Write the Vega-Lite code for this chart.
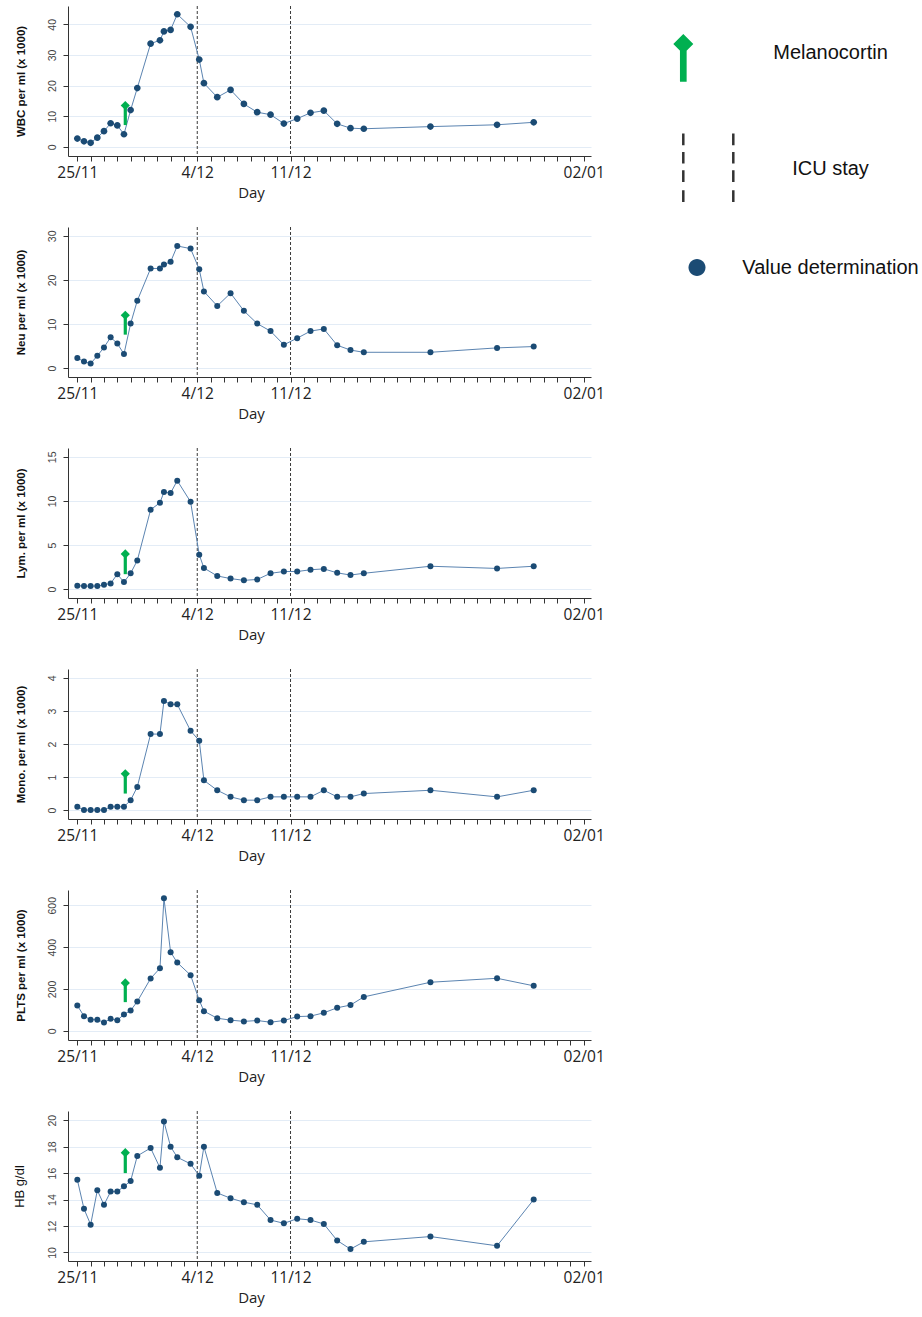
{
  "$schema": "https://vega.github.io/schema/vega-lite/v6.json",
  "background": "white",
  "padding": {"left": 13, "top": 5, "right": 5, "bottom": 5},
  "datasets": {
    "labs": [
      {"t": "2020-11-25T00:00:00", "wbc": 2.7, "neu": 2.3, "lym": 0.4, "mono": 0.1, "plts": 121, "hb": 15.5},
      {"t": "2020-11-25T12:00:00", "wbc": 1.8, "neu": 1.5, "lym": 0.35, "mono": 0, "plts": 70, "hb": 13.3},
      {"t": "2020-11-26T00:00:00", "wbc": 1.3, "neu": 1.05, "lym": 0.35, "mono": 0, "plts": 53, "hb": 12.1},
      {"t": "2020-11-26T12:00:00", "wbc": 3.0, "neu": 2.8, "lym": 0.35, "mono": 0, "plts": 53, "hb": 14.7},
      {"t": "2020-11-27T00:00:00", "wbc": 5.1, "neu": 4.7, "lym": 0.5, "mono": 0, "plts": 40, "hb": 13.6},
      {"t": "2020-11-27T12:00:00", "wbc": 7.7, "neu": 7.0, "lym": 0.65, "mono": 0.1, "plts": 57, "hb": 14.6},
      {"t": "2020-11-28T00:00:00", "wbc": 7.0, "neu": 5.6, "lym": 1.7, "mono": 0.1, "plts": 51, "hb": 14.6},
      {"t": "2020-11-28T12:00:00", "wbc": 4.1, "neu": 3.2, "lym": 0.8, "mono": 0.1, "plts": 78, "hb": 15.0},
      {"t": "2020-11-29T00:00:00", "wbc": 12.0, "neu": 10.1, "lym": 1.8, "mono": 0.3, "plts": 97, "hb": 15.4},
      {"t": "2020-11-29T12:00:00", "wbc": 19.2, "neu": 15.3, "lym": 3.25, "mono": 0.7, "plts": 140, "hb": 17.3},
      {"t": "2020-11-30T12:00:00", "wbc": 33.7, "neu": 22.6, "lym": 9.0, "mono": 2.3, "plts": 250, "hb": 17.9},
      {"t": "2020-12-01T04:48:00", "wbc": 34.8, "neu": 22.6, "lym": 9.8, "mono": 2.3, "plts": 299, "hb": 16.4},
      {"t": "2020-12-01T12:00:00", "wbc": 37.7, "neu": 23.5, "lym": 11.0, "mono": 3.3, "plts": 633, "hb": 19.9},
      {"t": "2020-12-02T00:00:00", "wbc": 38.2, "neu": 24.1, "lym": 10.9, "mono": 3.2, "plts": 376, "hb": 18.0},
      {"t": "2020-12-02T12:00:00", "wbc": 43.3, "neu": 27.7, "lym": 12.3, "mono": 3.2, "plts": 326, "hb": 17.2},
      {"t": "2020-12-03T12:00:00", "wbc": 39.2, "neu": 27.1, "lym": 9.9, "mono": 2.4, "plts": 266, "hb": 16.7},
      {"t": "2020-12-04T03:36:00", "wbc": 28.5, "neu": 22.4, "lym": 3.9, "mono": 2.1, "plts": 146, "hb": 15.8},
      {"t": "2020-12-04T12:00:00", "wbc": 20.8, "neu": 17.4, "lym": 2.4, "mono": 0.9, "plts": 94, "hb": 18.0},
      {"t": "2020-12-05T12:00:00", "wbc": 16.2, "neu": 14.1, "lym": 1.5, "mono": 0.6, "plts": 60, "hb": 14.5},
      {"t": "2020-12-06T12:00:00", "wbc": 18.6, "neu": 17.0, "lym": 1.2, "mono": 0.4, "plts": 51, "hb": 14.1},
      {"t": "2020-12-07T12:00:00", "wbc": 14.0, "neu": 13.0, "lym": 1.0, "mono": 0.3, "plts": 45, "hb": 13.8},
      {"t": "2020-12-08T12:00:00", "wbc": 11.3, "neu": 10.1, "lym": 1.1, "mono": 0.3, "plts": 49, "hb": 13.6},
      {"t": "2020-12-09T12:00:00", "wbc": 10.5, "neu": 8.4, "lym": 1.8, "mono": 0.4, "plts": 41, "hb": 12.45},
      {"t": "2020-12-10T12:00:00", "wbc": 7.6, "neu": 5.3, "lym": 2.0, "mono": 0.4, "plts": 49, "hb": 12.2},
      {"t": "2020-12-11T12:00:00", "wbc": 9.2, "neu": 6.8, "lym": 2.0, "mono": 0.4, "plts": 68, "hb": 12.55},
      {"t": "2020-12-12T12:00:00", "wbc": 11.1, "neu": 8.4, "lym": 2.2, "mono": 0.4, "plts": 70, "hb": 12.45},
      {"t": "2020-12-13T12:00:00", "wbc": 11.8, "neu": 8.9, "lym": 2.3, "mono": 0.6, "plts": 86, "hb": 12.15},
      {"t": "2020-12-14T12:00:00", "wbc": 7.5, "neu": 5.2, "lym": 1.85, "mono": 0.4, "plts": 110, "hb": 10.9},
      {"t": "2020-12-15T12:00:00", "wbc": 6.1, "neu": 4.1, "lym": 1.6, "mono": 0.4, "plts": 123, "hb": 10.25},
      {"t": "2020-12-16T12:00:00", "wbc": 5.9, "neu": 3.6, "lym": 1.8, "mono": 0.5, "plts": 162, "hb": 10.8},
      {"t": "2020-12-21T12:00:00", "wbc": 6.6, "neu": 3.6, "lym": 2.6, "mono": 0.6, "plts": 232, "hb": 11.2},
      {"t": "2020-12-26T12:00:00", "wbc": 7.2, "neu": 4.6, "lym": 2.35, "mono": 0.4, "plts": 251, "hb": 10.5},
      {"t": "2020-12-29T06:00:00", "wbc": 8.0, "neu": 4.9, "lym": 2.6, "mono": 0.6, "plts": 215, "hb": 14.0}
    ],
    "icu": [
      {"t": "2020-12-04T00:00:00"},
      {"t": "2020-12-11T00:00:00"}
    ],
    "melanocortin": [
      {"t": "2020-11-28T14:24:00", "wbc": 13.5, "wbc_base": 7.1, "neu": 12.0, "neu_base": 7.6, "lym": 4.0, "lym_base": 1.7, "mono": 1.1, "mono_base": 0.5, "plts": 229, "plts_base": 137, "hb": 17.55, "hb_base": 16.0}
    ]
  },
  "spacing": 71,
  "bounds": "flush",
  "resolve": {"scale": {"x": "independent", "y": "independent"}},
  "vconcat": [
    {
      "width": 523, "height": 150,
      "encoding": {"x": {"field": "t", "type": "temporal", "title": "Day", "scale": {"domain": [{"year": 2020, "month": 11, "date": 24, "hours": 7, "minutes": 12}, {"year": 2021, "month": 1, "date": 2, "hours": 13, "minutes": 12}]}, "axis": {"tickCount": {"interval": "day", "step": 1}, "labelExpr": "timeFormat(datum.value, '%d/%m') === '25/11' || timeFormat(datum.value, '%d/%m') === '11/12' || timeFormat(datum.value, '%d/%m') === '02/01' ? timeFormat(datum.value, '%d/%m') : (timeFormat(datum.value, '%d/%m') === '04/12' ? '4/12' : '')", "labelOverlap": false, "labelFlush": false, "titleX": 183, "titleY": 29, "titleAlign": "center", "titleBaseline": "top"}}},
      "layer": [
        {"data": {"name": "icu"}, "mark": {"type": "rule", "color": "#3a3a3a", "strokeWidth": 1, "strokeDash": [3, 2]}, "encoding": {}},
        {
          "encoding": {"y": {"field": "wbc", "type": "quantitative", "title": "WBC per ml (x 1000)", "scale": {"domain": [-3, 46], "nice": false, "zero": false}, "axis": {"values": [0, 10, 20, 30, 40], "titleFontWeight": "bold"}}},
          "layer": [
            {"data": {"name": "labs"}, "mark": {"type": "line", "color": "#5b84b1", "strokeWidth": 1}},
            {"data": {"name": "labs"}, "mark": {"type": "point", "filled": true, "size": 249, "opacity": 1},
             "encoding": {
               "color": {"datum": "Value determination", "type": "nominal",
                 "scale": {"domain": ["Melanocortin", "ICU stay", "Value determination"], "range": ["#00b050", "#333333", "#1b4b74"]},
                 "legend": {"title": null, "orient": "none", "legendX": 607.5, "legendY": 25, "padding": 0, "symbolSize": 1600, "symbolStrokeWidth": 2.5, "symbolOpacity": 1, "rowPadding": 36, "labelOffset": 112, "labelAlign": "center", "labelLimit": 400, "labelFont": "Liberation Sans", "labelFontSize": 20, "labelColor": "#111111"}},
               "shape": {"datum": "Value determination", "type": "nominal",
                 "scale": {"domain": ["Melanocortin", "ICU stay", "Value determination"], "range": [
                   "M-1.3,-0.92M-1.3,1.68M-0.685,-0.92L-0.185,-0.42L-0.685,0.08L-1.185,-0.42ZM-0.852,-0.2L-0.518,-0.2L-0.518,1.465L-0.852,1.465Z",
                   "M-1.3,-1.75M-1.3,1.8075M-0.685,-1.75L-0.685,-1.165M-0.685,-0.83L-0.685,-0.25M-0.685,0.085L-0.685,0.67M-0.685,1.085L-0.685,1.67M1.815,-1.75L1.815,-1.165M1.815,-0.83L1.815,-0.25M1.815,0.085L1.815,0.67M1.815,1.085L1.815,1.67",
                   "M-1.3,0M-0.425,0A0.425,0.425,0,1,1,0.425,0A0.425,0.425,0,1,1,-0.425,0Z"]},
                 "legend": {"title": null, "orient": "none"}},
               "stroke": {"datum": "Value determination", "type": "nominal",
                 "scale": {"domain": ["Melanocortin", "ICU stay", "Value determination"], "range": ["transparent", "#333333", "transparent"]},
                 "legend": {"title": null, "orient": "none"}}
             }},
            {"data": {"name": "melanocortin"}, "mark": {"type": "rule", "color": "#00b050", "strokeWidth": 3.2}, "encoding": {"y2": {"field": "wbc_base"}}},
            {"data": {"name": "melanocortin"}, "mark": {"type": "point", "shape": "diamond", "filled": true, "size": 85, "opacity": 1, "color": "#00b050"}}
          ]
        }
      ]
    },
    {
      "width": 523, "height": 150,
      "encoding": {"x": {"field": "t", "type": "temporal", "title": "Day", "scale": {"domain": [{"year": 2020, "month": 11, "date": 24, "hours": 7, "minutes": 12}, {"year": 2021, "month": 1, "date": 2, "hours": 13, "minutes": 12}]}, "axis": {"tickCount": {"interval": "day", "step": 1}, "labelExpr": "timeFormat(datum.value, '%d/%m') === '25/11' || timeFormat(datum.value, '%d/%m') === '11/12' || timeFormat(datum.value, '%d/%m') === '02/01' ? timeFormat(datum.value, '%d/%m') : (timeFormat(datum.value, '%d/%m') === '04/12' ? '4/12' : '')", "labelOverlap": false, "labelFlush": false, "titleX": 183, "titleY": 29, "titleAlign": "center", "titleBaseline": "top"}}},
      "layer": [
        {"data": {"name": "icu"}, "mark": {"type": "rule", "color": "#3a3a3a", "strokeWidth": 1, "strokeDash": [3, 2]}, "encoding": {}},
        {
          "encoding": {"y": {"field": "neu", "type": "quantitative", "title": "Neu per ml (x 1000)", "scale": {"domain": [-2, 32], "nice": false, "zero": false}, "axis": {"values": [0, 10, 20, 30], "titleFontWeight": "bold"}}},
          "layer": [
            {"data": {"name": "labs"}, "mark": {"type": "line", "color": "#5b84b1", "strokeWidth": 1}},
            {"data": {"name": "labs"}, "mark": {"type": "point", "filled": true, "size": 36, "opacity": 1, "color": "#1b4b74"}},
            {"data": {"name": "melanocortin"}, "mark": {"type": "rule", "color": "#00b050", "strokeWidth": 3.2}, "encoding": {"y2": {"field": "neu_base"}}},
            {"data": {"name": "melanocortin"}, "mark": {"type": "point", "shape": "diamond", "filled": true, "size": 85, "opacity": 1, "color": "#00b050"}}
          ]
        }
      ]
    },
    {
      "width": 523, "height": 150,
      "encoding": {"x": {"field": "t", "type": "temporal", "title": "Day", "scale": {"domain": [{"year": 2020, "month": 11, "date": 24, "hours": 7, "minutes": 12}, {"year": 2021, "month": 1, "date": 2, "hours": 13, "minutes": 12}]}, "axis": {"tickCount": {"interval": "day", "step": 1}, "labelExpr": "timeFormat(datum.value, '%d/%m') === '25/11' || timeFormat(datum.value, '%d/%m') === '11/12' || timeFormat(datum.value, '%d/%m') === '02/01' ? timeFormat(datum.value, '%d/%m') : (timeFormat(datum.value, '%d/%m') === '04/12' ? '4/12' : '')", "labelOverlap": false, "labelFlush": false, "titleX": 183, "titleY": 29, "titleAlign": "center", "titleBaseline": "top"}}},
      "layer": [
        {"data": {"name": "icu"}, "mark": {"type": "rule", "color": "#3a3a3a", "strokeWidth": 1, "strokeDash": [3, 2]}, "encoding": {}},
        {
          "encoding": {"y": {"field": "lym", "type": "quantitative", "title": "Lym. per ml (x 1000)", "scale": {"domain": [-1, 16], "nice": false, "zero": false}, "axis": {"values": [0, 5, 10, 15], "titleFontWeight": "bold"}}},
          "layer": [
            {"data": {"name": "labs"}, "mark": {"type": "line", "color": "#5b84b1", "strokeWidth": 1}},
            {"data": {"name": "labs"}, "mark": {"type": "point", "filled": true, "size": 36, "opacity": 1, "color": "#1b4b74"}},
            {"data": {"name": "melanocortin"}, "mark": {"type": "rule", "color": "#00b050", "strokeWidth": 3.2}, "encoding": {"y2": {"field": "lym_base"}}},
            {"data": {"name": "melanocortin"}, "mark": {"type": "point", "shape": "diamond", "filled": true, "size": 85, "opacity": 1, "color": "#00b050"}}
          ]
        }
      ]
    },
    {
      "width": 523, "height": 150,
      "encoding": {"x": {"field": "t", "type": "temporal", "title": "Day", "scale": {"domain": [{"year": 2020, "month": 11, "date": 24, "hours": 7, "minutes": 12}, {"year": 2021, "month": 1, "date": 2, "hours": 13, "minutes": 12}]}, "axis": {"tickCount": {"interval": "day", "step": 1}, "labelExpr": "timeFormat(datum.value, '%d/%m') === '25/11' || timeFormat(datum.value, '%d/%m') === '11/12' || timeFormat(datum.value, '%d/%m') === '02/01' ? timeFormat(datum.value, '%d/%m') : (timeFormat(datum.value, '%d/%m') === '04/12' ? '4/12' : '')", "labelOverlap": false, "labelFlush": false, "titleX": 183, "titleY": 29, "titleAlign": "center", "titleBaseline": "top"}}},
      "layer": [
        {"data": {"name": "icu"}, "mark": {"type": "rule", "color": "#3a3a3a", "strokeWidth": 1, "strokeDash": [3, 2]}, "encoding": {}},
        {
          "encoding": {"y": {"field": "mono", "type": "quantitative", "title": "Mono. per ml (x 1000)", "scale": {"domain": [-0.27, 4.27], "nice": false, "zero": false}, "axis": {"values": [0, 1, 2, 3, 4], "titleFontWeight": "bold"}}},
          "layer": [
            {"data": {"name": "labs"}, "mark": {"type": "line", "color": "#5b84b1", "strokeWidth": 1}},
            {"data": {"name": "labs"}, "mark": {"type": "point", "filled": true, "size": 36, "opacity": 1, "color": "#1b4b74"}},
            {"data": {"name": "melanocortin"}, "mark": {"type": "rule", "color": "#00b050", "strokeWidth": 3.2}, "encoding": {"y2": {"field": "mono_base"}}},
            {"data": {"name": "melanocortin"}, "mark": {"type": "point", "shape": "diamond", "filled": true, "size": 85, "opacity": 1, "color": "#00b050"}}
          ]
        }
      ]
    },
    {
      "width": 523, "height": 150,
      "encoding": {"x": {"field": "t", "type": "temporal", "title": "Day", "scale": {"domain": [{"year": 2020, "month": 11, "date": 24, "hours": 7, "minutes": 12}, {"year": 2021, "month": 1, "date": 2, "hours": 13, "minutes": 12}]}, "axis": {"tickCount": {"interval": "day", "step": 1}, "labelExpr": "timeFormat(datum.value, '%d/%m') === '25/11' || timeFormat(datum.value, '%d/%m') === '11/12' || timeFormat(datum.value, '%d/%m') === '02/01' ? timeFormat(datum.value, '%d/%m') : (timeFormat(datum.value, '%d/%m') === '04/12' ? '4/12' : '')", "labelOverlap": false, "labelFlush": false, "titleX": 183, "titleY": 29, "titleAlign": "center", "titleBaseline": "top"}}},
      "layer": [
        {"data": {"name": "icu"}, "mark": {"type": "rule", "color": "#3a3a3a", "strokeWidth": 1, "strokeDash": [3, 2]}, "encoding": {}},
        {
          "encoding": {"y": {"field": "plts", "type": "quantitative", "title": "PLTS per ml (x 1000)", "scale": {"domain": [-44, 673], "nice": false, "zero": false}, "axis": {"values": [0, 200, 400, 600], "titleFontWeight": "bold"}}},
          "layer": [
            {"data": {"name": "labs"}, "mark": {"type": "line", "color": "#5b84b1", "strokeWidth": 1}},
            {"data": {"name": "labs"}, "mark": {"type": "point", "filled": true, "size": 36, "opacity": 1, "color": "#1b4b74"}},
            {"data": {"name": "melanocortin"}, "mark": {"type": "rule", "color": "#00b050", "strokeWidth": 3.2}, "encoding": {"y2": {"field": "plts_base"}}},
            {"data": {"name": "melanocortin"}, "mark": {"type": "point", "shape": "diamond", "filled": true, "size": 85, "opacity": 1, "color": "#00b050"}}
          ]
        }
      ]
    },
    {
      "width": 523, "height": 150,
      "encoding": {"x": {"field": "t", "type": "temporal", "title": "Day", "scale": {"domain": [{"year": 2020, "month": 11, "date": 24, "hours": 7, "minutes": 12}, {"year": 2021, "month": 1, "date": 2, "hours": 13, "minutes": 12}]}, "axis": {"tickCount": {"interval": "day", "step": 1}, "labelExpr": "timeFormat(datum.value, '%d/%m') === '25/11' || timeFormat(datum.value, '%d/%m') === '11/12' || timeFormat(datum.value, '%d/%m') === '02/01' ? timeFormat(datum.value, '%d/%m') : (timeFormat(datum.value, '%d/%m') === '04/12' ? '4/12' : '')", "labelOverlap": false, "labelFlush": false, "titleX": 183, "titleY": 29, "titleAlign": "center", "titleBaseline": "top"}}},
      "layer": [
        {"data": {"name": "icu"}, "mark": {"type": "rule", "color": "#3a3a3a", "strokeWidth": 1, "strokeDash": [3, 2]}, "encoding": {}},
        {
          "encoding": {"y": {"field": "hb", "type": "quantitative", "title": "HB g/dl", "scale": {"domain": [9.35, 20.7], "nice": false, "zero": false}, "axis": {"values": [10, 12, 14, 16, 18, 20], "titleFontWeight": "normal", "titleFontSize": 13}}},
          "layer": [
            {"data": {"name": "labs"}, "mark": {"type": "line", "color": "#5b84b1", "strokeWidth": 1}},
            {"data": {"name": "labs"}, "mark": {"type": "point", "filled": true, "size": 36, "opacity": 1, "color": "#1b4b74"}},
            {"data": {"name": "melanocortin"}, "mark": {"type": "rule", "color": "#00b050", "strokeWidth": 3.2}, "encoding": {"y2": {"field": "hb_base"}}},
            {"data": {"name": "melanocortin"}, "mark": {"type": "point", "shape": "diamond", "filled": true, "size": 85, "opacity": 1, "color": "#00b050"}}
          ]
        }
      ]
    }
  ],
  "config": {
    "view": {"stroke": null},
    "axis": {"domainColor": "#333333", "tickColor": "#333333", "domainWidth": 1, "tickWidth": 1, "tickSize": 5},
    "axisX": {"grid": false, "labelFont": "Open Sans", "labelFontSize": 15.5, "labelColor": "#222222", "labelPadding": 4, "titleFont": "Open Sans", "titleFontSize": 15, "titleFontWeight": "normal", "titleColor": "#222222"},
    "axisY": {"grid": true, "gridColor": "#e3ecf6", "gridWidth": 1, "labelAngle": 270, "labelFont": "Liberation Sans", "labelFontSize": 10.5, "labelColor": "#444444", "labelPadding": 6, "titleFont": "Liberation Sans", "titleFontSize": 11.5, "titleColor": "#111111", "titlePadding": 20.7}
  }
}
